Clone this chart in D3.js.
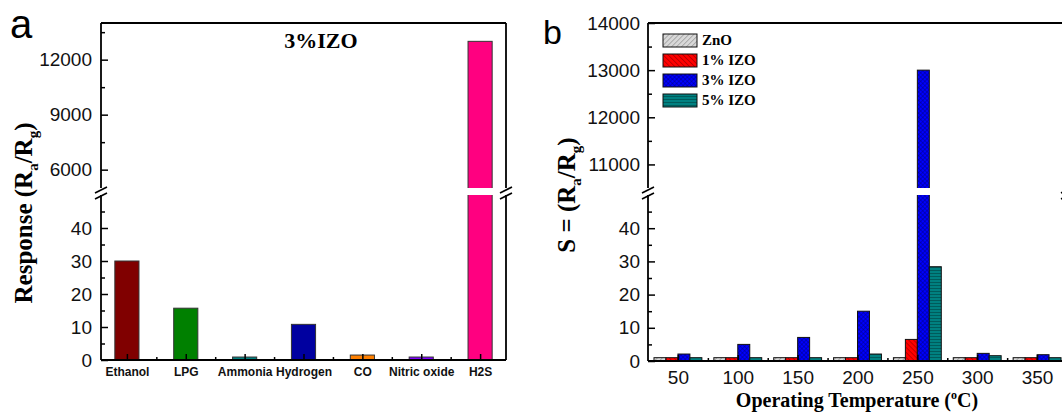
<!DOCTYPE html>
<html>
<head>
<meta charset="utf-8">
<script src="https://cdn.jsdelivr.net/npm/d3@7"></script>
<style>
  html, body { margin: 0; padding: 0; background: #fff; }
  svg { display: block; }
</style>
</head>
<body>
<svg id="fig" width="1062" height="412"></svg>
<script>
// ---- Panel a: response of 3% IZO to different gases ----
const gases = ["Ethanol", "LPG", "Ammonia", "Hydrogen", "CO", "Nitric oxide", "H2S"];
const gasResponse = [30, 15.7, 0.9, 10.8, 1.5, 0.9, 13000];
const aUpperTicks = [6000, 9000, 12000];
const aUpperMinor = [7500, 10500, 13500];
const aLowerTicks = [0, 10, 20, 30, 40];
const aLowerMinor = [5, 15, 25, 35, 45];

// ---- Panel b: sensitivity vs operating temperature ----
const temps = [50, 100, 150, 200, 250, 300, 350];
const seriesNames = ["ZnO", "1% IZO", "3% IZO", "5% IZO"];
const znoS  = [1, 1, 1, 1, 1, 1, 1];
const izo1S = [1, 1, 1, 1, 6.5, 1, 1];
const izo3S = [2.1, 5, 7.1, 15, 13000, 2.3, 1.9];
const izo5S = [1, 1, 1, 2.1, 28.4, 1.6, 1];
const bUpperTicks = [11000, 12000, 13000, 14000];
const bUpperMinor = [11500, 12500, 13500];
const bLowerTicks = [0, 10, 20, 30, 40];
const bLowerMinor = [5, 15, 25, 35, 45];
const tempMinor = [75, 125, 175, 225, 275, 325];

// styles
const gasColors = ["#800000", "#008000", "#008080", "#0000a0", "#ff8000", "#8000ff", "#ff0080"];
const SERIF = "'Liberation Serif', 'Times New Roman', serif";
const SANS = "'Liberation Sans', Arial, sans-serif";
const fmt = d3.format("d");

const svg = d3.select("#fig");
svg.append("rect").attr("width", 1062).attr("height", 412).attr("fill", "#fff");

// ---- hatch patterns for panel b ----
const defs = svg.append("defs");
function hatch(id, bg, fg, angle, gap, sw) {
  const p = defs.append("pattern").attr("id", id)
    .attr("patternUnits", "userSpaceOnUse")
    .attr("width", gap).attr("height", gap)
    .attr("patternTransform", `rotate(${angle})`);
  p.append("rect").attr("width", gap).attr("height", gap).attr("fill", bg);
  p.append("line").attr("x1", 0).attr("y1", 0).attr("x2", gap).attr("y2", 0)
    .attr("stroke", fg).attr("stroke-width", sw);
  return p;
}
hatch("pZnO", "#d8d8d8", "#8a8a8a", -45, 3.5, 1.2);
hatch("pIzo1", "#ff0000", "#8a0000", 45, 3.5, 1.1);
const p3 = hatch("pIzo3", "#0000ff", "#00007a", 45, 3, 0.9);
p3.append("line").attr("x1", 0).attr("y1", 0).attr("x2", 0).attr("y2", 3)
  .attr("stroke", "#00007a").attr("stroke-width", 0.9);
hatch("pIzo5", "#008080", "#003c3c", 0, 3, 1.1);
const seriesFill = ["url(#pZnO)", "url(#pIzo1)", "url(#pIzo3)", "url(#pIzo5)"];

// ---- broken y scale helper ----
function brokenY(p) {
  const up = d3.scaleLinear().domain(p.upper).range([p.breakTop, p.top]);
  const lo = d3.scaleLinear().domain(p.lower).range([p.bottom, p.breakBot]);
  const y = v => (v <= p.lower[1] ? lo(v) : up(v));
  return { up, lo, y };
}

function breakMark(g, x, p) {
  // white gap on the axis plus two slanted strokes
  g.append("rect").attr("x", x - 3).attr("y", p.breakTop + 1)
    .attr("width", 6).attr("height", p.breakBot - p.breakTop - 2).attr("fill", "#fff");
  [p.breakTop + 2, p.breakBot + 1].forEach(yy => {
    g.append("line").attr("x1", x - 6).attr("y1", yy + 3).attr("x2", x + 6).attr("y2", yy - 3)
      .attr("stroke", "#000").attr("stroke-width", 1.6);
  });
}

function frame(g, p) {
  const L = (x1, y1, x2, y2) => g.append("line")
    .attr("x1", x1).attr("y1", y1).attr("x2", x2).attr("y2", y2)
    .attr("stroke", "#000").attr("stroke-width", 1.8);
  L(p.left, p.top, p.right, p.top);
  L(p.left, p.bottom, p.right, p.bottom);
  L(p.left, p.top, p.left, p.breakTop);
  L(p.left, p.breakBot, p.left, p.bottom);
  L(p.right, p.top, p.right, p.breakTop);
  L(p.right, p.breakBot, p.right, p.bottom);
  breakMark(g, p.left, p);
  breakMark(g, p.right, p);
}

function yAxes(g, p, sc, upT, upM, loT, loM) {
  const styleAxis = a => {
    a.select(".domain").remove();
    a.selectAll("line").attr("stroke-width", 1.5);
    a.selectAll("text").attr("font-family", SANS).attr("font-size", 19).attr("fill", "#111");
  };
  const ax = g.append("g").attr("transform", `translate(${p.left},0)`);
  ax.append("g").call(d3.axisLeft(sc.up).tickValues(upT).tickFormat(fmt).tickSize(-7).tickPadding(p.yPad)).call(styleAxis);
  ax.append("g").call(d3.axisLeft(sc.up).tickValues(upM).tickSize(-4).tickFormat("")).call(styleAxis);
  ax.append("g").call(d3.axisLeft(sc.lo).tickValues(loT).tickFormat(fmt).tickSize(-7).tickPadding(p.yPad)).call(styleAxis);
  ax.append("g").call(d3.axisLeft(sc.lo).tickValues(loM).tickSize(-4).tickFormat("")).call(styleAxis);
}

// ===================== Panel a =====================
const pa = { left: 101, right: 506, top: 23, bottom: 360, breakTop: 188, breakBot: 195,
             upper: [5000, 14000], lower: [0, 50], yPad: 9 };
const ya = brokenY(pa);
const xa = d3.scaleLinear().domain([0.56, 7.44]).range([pa.left, pa.right]);
const ga = svg.append("g");
const bwA = (xa(2) - xa(1)) * 0.41;

gases.forEach((name, i) => {
  const v = gasResponse[i];
  const cx = xa(i + 1);
  ga.append("rect")
    .attr("x", cx - bwA / 2).attr("width", bwA)
    .attr("y", ya.y(v)).attr("height", ya.lo(0) - ya.y(v))
    .attr("fill", gasColors[i]).attr("stroke", "#333").attr("stroke-width", 1);
  if (v > pa.lower[1]) {
    ga.append("rect").attr("x", cx - bwA / 2 - 2).attr("width", bwA + 4)
      .attr("y", pa.breakTop).attr("height", pa.breakBot - pa.breakTop).attr("fill", "#fff");
  }
});

frame(ga, pa);
yAxes(ga, pa, ya, aUpperTicks, aUpperMinor, aLowerTicks, aLowerMinor);

const xAxA = ga.append("g").attr("transform", `translate(0,${pa.bottom})`);
xAxA.call(d3.axisBottom(xa).tickValues(d3.range(1, gases.length + 1))
  .tickFormat(d => gases[d - 1]).tickSize(-6).tickPadding(7.5));
xAxA.select(".domain").remove();
xAxA.selectAll("line").attr("stroke-width", 1.5);
xAxA.selectAll("text").attr("font-family", SANS).attr("font-size", 12)
  .attr("font-weight", "bold").attr("fill", "#111");
const xAxAm = ga.append("g").attr("transform", `translate(0,${pa.bottom})`);
xAxAm.call(d3.axisBottom(xa).tickValues(d3.range(1.5, gases.length, 1)).tickSize(-3).tickFormat(""));
xAxAm.select(".domain").remove();
xAxAm.selectAll("line").attr("stroke-width", 1.5);

ga.append("text").attr("x", 321).attr("y", 48).attr("text-anchor", "middle")
  .attr("font-family", SERIF).attr("font-weight", "bold").attr("font-size", 22)
  .text("3%IZO");

ga.append("text").attr("x", 10).attr("y", 38)
  .attr("font-family", SANS).attr("font-size", 40).text("a");

const yLabA = ga.append("text")
  .attr("transform", "translate(32,213) rotate(-90)")
  .attr("text-anchor", "middle")
  .attr("font-family", SERIF).attr("font-weight", "bold").attr("font-size", 25);
yLabA.append("tspan").text("Response (R");
yLabA.append("tspan").attr("dy", 6).attr("font-size", 15).text("a");
yLabA.append("tspan").attr("dy", -6).text("/R");
yLabA.append("tspan").attr("dy", 6).attr("font-size", 15).text("g");
yLabA.append("tspan").attr("dy", -6).text(")");

// ===================== Panel b =====================
const pb = { left: 648, right: 1067, top: 23, bottom: 361, breakTop: 188, breakBot: 195,
             upper: [10500, 14000], lower: [0, 50], yPad: 8 };
const yb = brokenY(pb);
const xb = d3.scaleLinear().domain([25, 375]).range([pb.left, pb.right]);
const gb = svg.append("g");
const bwB = xb(35) - xb(25);
const seriesVals = [znoS, izo1S, izo3S, izo5S];

seriesVals.forEach((vals, s) => {
  temps.forEach((t, i) => {
    const v = vals[i];
    const x0 = xb(t) + (s - 2) * bwB;
    gb.append("rect")
      .attr("x", x0).attr("width", bwB)
      .attr("y", yb.y(v)).attr("height", yb.lo(0) - yb.y(v))
      .attr("fill", seriesFill[s]).attr("stroke", "#111").attr("stroke-width", 1);
    if (v > pb.lower[1]) {
      gb.append("rect").attr("x", x0 - 2).attr("width", bwB + 4)
        .attr("y", pb.breakTop).attr("height", pb.breakBot - pb.breakTop).attr("fill", "#fff");
    }
  });
});

frame(gb, pb);
yAxes(gb, pb, yb, bUpperTicks, bUpperMinor, bLowerTicks, bLowerMinor);

const xAxB = gb.append("g").attr("transform", `translate(0,${pb.bottom})`);
xAxB.call(d3.axisBottom(xb).tickValues(temps).tickFormat(fmt).tickSize(-6).tickPadding(9.5));
xAxB.select(".domain").remove();
xAxB.selectAll("line").attr("stroke-width", 1.5);
xAxB.selectAll("text").attr("font-family", SANS).attr("font-size", 19).attr("fill", "#111");
const xAxBm = gb.append("g").attr("transform", `translate(0,${pb.bottom})`);
xAxBm.call(d3.axisBottom(xb).tickValues(tempMinor).tickSize(-3).tickFormat(""));
xAxBm.select(".domain").remove();
xAxBm.selectAll("line").attr("stroke-width", 1.5);

// legend
const leg = gb.append("g");
seriesNames.forEach((name, s) => {
  const yy = 34 + s * 20;
  leg.append("rect").attr("x", 663).attr("y", yy).attr("width", 34).attr("height", 13)
    .attr("fill", seriesFill[s]).attr("stroke", "#111").attr("stroke-width", 1);
  leg.append("text").attr("x", 702).attr("y", yy + 11)
    .attr("font-family", SERIF).attr("font-weight", "bold").attr("font-size", 15)
    .text(name);
});

gb.append("text").attr("x", 543).attr("y", 44)
  .attr("font-family", SANS).attr("font-size", 34).text("b");

const yLabB = gb.append("text")
  .attr("transform", "translate(575,195) rotate(-90)")
  .attr("text-anchor", "middle")
  .attr("font-family", SERIF).attr("font-weight", "bold").attr("font-size", 25);
yLabB.append("tspan").text("S = (R");
yLabB.append("tspan").attr("dy", 6).attr("font-size", 15).text("a");
yLabB.append("tspan").attr("dy", -6).text("/R");
yLabB.append("tspan").attr("dy", 6).attr("font-size", 15).text("g");
yLabB.append("tspan").attr("dy", -6).text(")");

const xLabB = gb.append("text").attr("x", 857).attr("y", 407).attr("text-anchor", "middle")
  .attr("font-family", SERIF).attr("font-weight", "bold").attr("font-size", 20);
xLabB.append("tspan").text("Operating Temperature (");
xLabB.append("tspan").attr("dy", -8).attr("font-size", 12).text("o");
xLabB.append("tspan").attr("dy", 8).text("C)");
</script>
</body>
</html>
